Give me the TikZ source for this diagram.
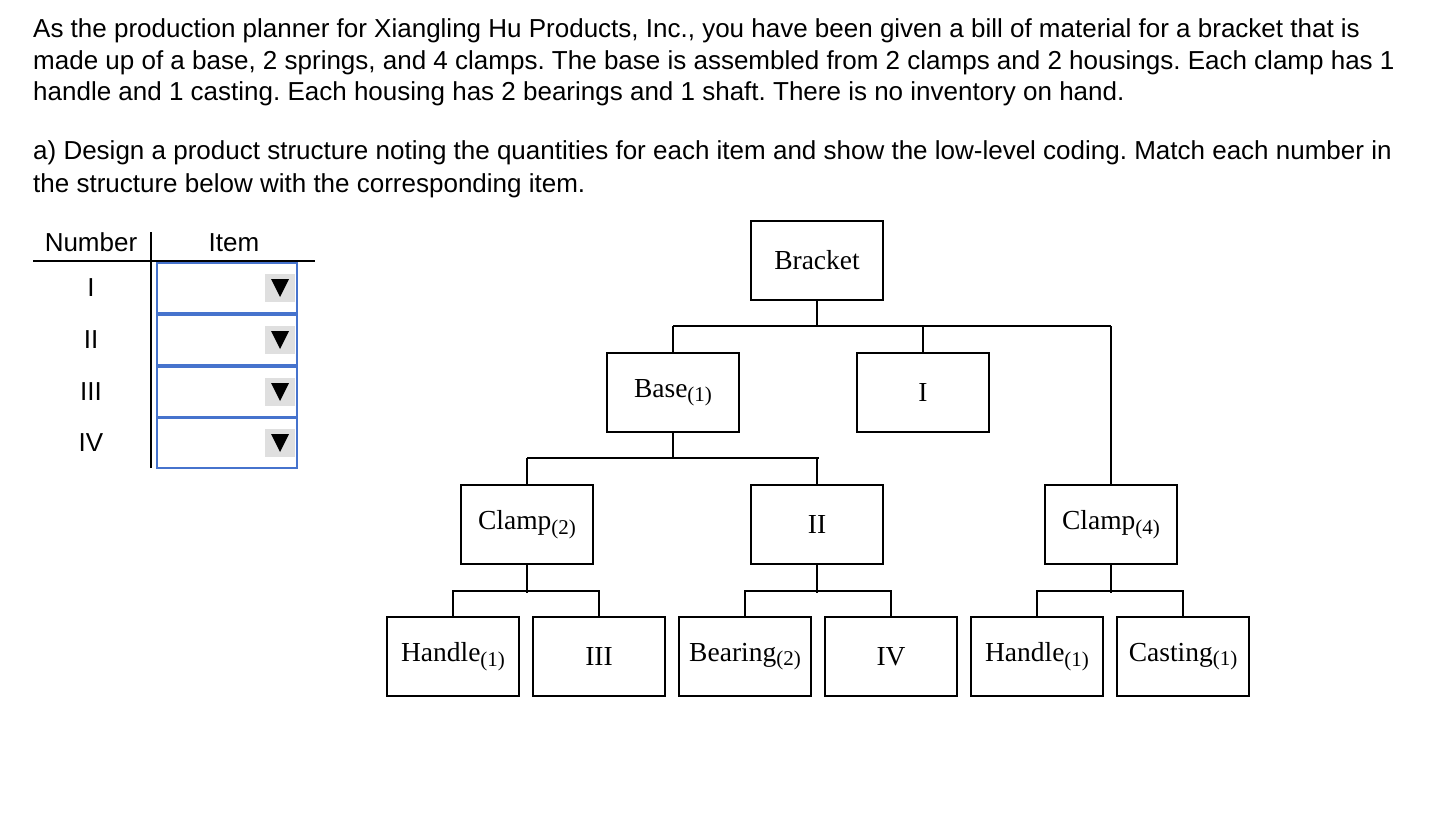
\documentclass[tikz,border=0pt]{standalone}
\usepackage{fontspec}
\usetikzlibrary{calc}
\setmainfont{Liberation Serif}
\newfontfamily\arialf{Liberation Sans}
\definecolor{ddblue}{RGB}{70,115,205}
\begin{document}
\frenchspacing
\begin{tikzpicture}[x=1pt,y=-1pt,
  bx/.style={draw,line width=1.6pt,minimum width=132pt,minimum height=79pt,inner sep=0pt,font=\fontsize{27.5}{30}\selectfont},
  ln/.style={line width=1.6pt},
  txt/.style={anchor=base west,inner sep=0pt,font=\arialf\fontsize{26}{30}\selectfont},
  dd/.style={draw=ddblue,line width=1.2pt,minimum width=140pt,minimum height=50pt,inner sep=0pt}]
\useasboundingbox (0,0) rectangle (1432,824);
\node[txt] (t1) at (33,38) {As the production planner for Xiangling Hu Products, Inc., you have been given a bill of material for a bracket that is};
\node[txt] (t2) at (33,70) {made up of a base, 2 springs, and 4 clamps. The base is assembled from 2 clamps and 2 housings. Each clamp has 1};
\node[txt] (t3) at (33,101) {handle and 1 casting. Each housing has 2 bearings and 1 shaft. There is no inventory on hand.};
\node[txt] (t4) at (33,160) {a) Design a product structure noting the quantities for each item and show the low-level coding. Match each number in};
\node[txt] (t5) at (33,192) {the structure below with the corresponding item.};
% table
\node[txt,anchor=base] (hn) at (91,251) {Number};
\node[txt,anchor=base] (hi) at (234,251) {Item};
\draw[line width=1.2pt] (33,261) -- (315,261);
\draw[line width=1.2pt] (151,232) -- (151,468);
\foreach \r/\y in {I/288,II/340,III/392,IV/443}{
  \node[txt,anchor=center] (n\r) at (91,\y) {\r};
  \node[dd] (d\r) at (227,\y) {};
  \fill[gray!25] ($(227,\y)+(38,-14)$) rectangle ($(227,\y)+(68,14)$);
  \fill ($(227,\y)+(44,-9)$) -- ($(227,\y)+(62,-9)$) -- ($(227,\y)+(53,9)$) -- cycle;
}
% tree
\newcommand\qsub[1]{\raisebox{-0.35ex}{\fontsize{21}{22}\selectfont(#1)}}
\node[bx] (br) at (817,260.5) {Bracket};
\node[bx] (ba) at (673,392.5) {Base\qsub{1}};
\node[bx] (i) at (923,392.5) {I};
\node[bx] (c2) at (527,524.5) {Clamp\qsub{2}};
\node[bx] (ii) at (817,524.5) {II};
\node[bx] (c4) at (1111,524.5) {Clamp\qsub{4}};
\node[bx] (h1) at (453,656.5) {Handle\qsub{1}};
\node[bx] (iii) at (599,656.5) {III};
\node[bx] (be) at (745,656.5) {Bearing\qsub{2}};
\node[bx] (iv) at (891,656.5) {IV};
\node[bx] (h2) at (1037,656.5) {Handle\qsub{1}};
\node[bx] (ca) at (1183,656.5) {Casting\qsub{1}};
\draw[ln] (br.south) -- (817,326) (673,326) -- (1111,326) (ba.north) -- (673,326) (i.north) -- (923,326) (1111,326) -- (c4.north);
\draw[ln] (ba.south) -- (673,458) (527,458) -- (819,458) (c2.north) -- (527,458) (ii.north) -- (817,458);
\foreach \p/\a/\b in {c2/h1/iii, ii/be/iv, c4/h2/ca}{
  \draw[ln] (\p.south) -- ($(\p.south)+(0,28)$);
  \draw[ln] (\a.north) -- ($(\a.north)+(0,-25)$) -- ($(\b.north)+(0,-25)$) -- (\b.north);
}
\end{tikzpicture}
\end{document}
